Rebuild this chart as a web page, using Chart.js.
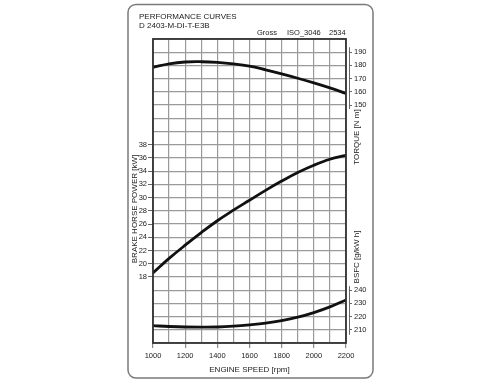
<!DOCTYPE html>
<html>
<head>
<meta charset="utf-8">
<script src="https://cdn.jsdelivr.net/npm/chart.js@4.4.1/dist/chart.umd.min.js"></script>
<style>
  html, body { margin: 0; padding: 0; background: #fff; }
  canvas { display: block; }
</style>
</head>
<body>
<canvas id="chart" width="500" height="384"></canvas>
<script>
// engine speed [rpm], one point per grid column
const speeds = [1000, 1100, 1200, 1300, 1400, 1500, 1600, 1700, 1800, 1900, 2000, 2100, 2200]
const torque = [178.6, 181.2, 182.6, 182.8, 182.3, 181.2, 179.5, 176.7, 173.6, 170.3, 166.8, 163.0, 158.8]
const power = [18.6, 20.8, 22.8, 24.7, 26.5, 28.1, 29.6, 31.1, 32.5, 33.8, 34.9, 35.8, 36.4]
const bsfc = [213.1, 212.5, 212.1, 212.0, 212.1, 212.7, 213.7, 215.0, 216.9, 219.5, 223.0, 227.3, 232.6]

const speedLabels = [1000, 1200, 1400, 1600, 1800, 2000, 2200]
const powerTicks = [18, 20, 22, 24, 26, 28, 30, 32, 34, 36, 38]
const torqueTicks = [150, 160, 170, 180, 190]
const bsfcTicks = [210, 220, 230, 240]

const FONT = "'Liberation Sans', Arial, sans-serif"
const TEXT = "#222"
const GRID = "#9a9a9a"

const points = (values) => speeds.map((x, i) => ({ x, y: values[i] }))

const line = (values, axis) => ({
  data: points(values),
  yAxisID: axis,
  borderColor: "#111",
  borderWidth: 2.8,
  pointRadius: 0,
  tension: 0.4,
  fill: false
})

const fixedTicks = (list) => (scale) => {
  scale.ticks = list.map((value) => ({ value }))
}

const sideAxis = (position, min, max, list, tickLength, padding) => ({
  type: "linear",
  position,
  min,
  max,
  afterBuildTicks: fixedTicks(list),
  grid: { drawOnChartArea: false, drawTicks: true, tickLength, tickColor: "#666", tickWidth: 1 },
  border: { display: false },
  ticks: { color: TEXT, padding, font: { family: FONT, size: 7.5 } }
})

const decor = {
  id: "decor",
  afterLayout(chart) {
    // the two right axes share one column, a little off the plot
    const t = chart.scales.torque
    const b = chart.scales.bsfc
    t.left += 3
    t.right += 3
    b.left = t.left
    b.right = t.right
  },
  beforeDraw(chart) {
    const c = chart.ctx
    c.save()
    c.fillStyle = "#fff"
    c.fillRect(0, 0, chart.width, chart.height)
    c.strokeStyle = "#7a7a7a"
    c.lineWidth = 1.5
    c.beginPath()
    c.roundRect(128, 4.5, 245, 373.5, 8)
    c.stroke()
    c.restore()
  },
  afterDraw(chart) {
    const c = chart.ctx
    const a = chart.chartArea
    const { torque: t, bsfc: b } = chart.scales
    c.save()
    c.strokeStyle = "#333"
    c.lineWidth = 1.8
    c.strokeRect(a.left, a.top, a.right - a.left, a.bottom - a.top)

    c.strokeStyle = "#666"
    c.lineWidth = 1
    c.beginPath()
    c.moveTo(t.left + 0.5, t.getPixelForValue(torqueTicks[torqueTicks.length - 1]) - 5)
    c.lineTo(t.left + 0.5, t.getPixelForValue(torqueTicks[0]) + 4)
    c.moveTo(b.left + 0.5, b.getPixelForValue(bsfcTicks[bsfcTicks.length - 1]) - 4)
    c.lineTo(b.left + 0.5, b.getPixelForValue(bsfcTicks[0]) + 5)
    c.stroke()

    c.fillStyle = TEXT
    c.font = `8px ${FONT}`
    c.textBaseline = "alphabetic"
    c.textAlign = "left"
    c.fillText("PERFORMANCE CURVES", 139, 18.5)
    c.fillText("D 2403-M-DI-T-E3B", 139, 28)
    c.font = `7.5px ${FONT}`
    c.fillText("Gross", 257, 35)
    c.fillText("ISO_3046", 287, 35)
    c.fillText("2534", 329, 35)

    c.font = `8px ${FONT}`
    c.textAlign = "center"
    c.textBaseline = "middle"
    c.fillText("ENGINE SPEED [rpm]", (a.left + a.right) / 2, 370)
    const vertical = (text, x, y) => {
      c.save()
      c.translate(x, y)
      c.rotate(-Math.PI / 2)
      c.fillText(text, 0, 0)
      c.restore()
    }
    vertical("BRAKE HORSE POWER [kW]", 135, 209)
    vertical("TORQUE [N m]", 357, 137)
    vertical("BSFC [g/kW h]", 357, 257)
    c.restore()
  }
}

new Chart(document.getElementById("chart"), {
  type: "line",
  data: {
    datasets: [
      line(torque, "torque"),
      line(power, "power"),
      line(bsfc, "bsfc")
    ]
  },
  plugins: [decor],
  options: {
    responsive: false,
    animation: false,
    devicePixelRatio: 1,
    layout: { padding: { left: 120, right: 120, top: 39, bottom: 10 } },
    plugins: {
      legend: { display: false },
      tooltip: { enabled: false }
    },
    scales: {
      x: {
        type: "linear",
        min: 1000,
        max: 2200,
        afterBuildTicks: fixedTicks(speeds),
        afterFit: (s) => { s.height = 31 },
        grid: {
          color: GRID,
          lineWidth: 1.2,
          drawTicks: true,
          tickLength: 5,
          tickColor: (ctx) => speedLabels.includes(ctx.tick?.value) ? "#888" : "rgba(0,0,0,0)"
        },
        border: { display: false },
        ticks: {
          autoSkip: false,
          maxRotation: 0,
          padding: 3,
          color: TEXT,
          font: { family: FONT, size: 7.5 },
          callback: (v) => speedLabels.includes(v) ? String(v) : ""
        }
      },
      rows: {
        type: "linear",
        position: "left",
        min: 0,
        max: 23,
        afterFit: (s) => { s.width = 0 },
        grid: { color: GRID, lineWidth: 1.2, drawTicks: false },
        border: { display: false },
        ticks: { display: false, stepSize: 1, maxTicksLimit: 100 }
      },
      power: Object.assign(sideAxis("left", 8, 54, powerTicks, 5, 1), {
        afterFit: (s) => { s.width = 33 }
      }),
      torque: Object.assign(sideAxis("right", -30, 200, torqueTicks, 3, 2), {
        afterFit: (s) => { s.width = 34 }
      }),
      bsfc: Object.assign(sideAxis("right", 200, 430, bsfcTicks, 3, 2), {
        afterFit: (s) => { s.width = 0 }
      })
    }
  }
})
</script>
</body>
</html>
